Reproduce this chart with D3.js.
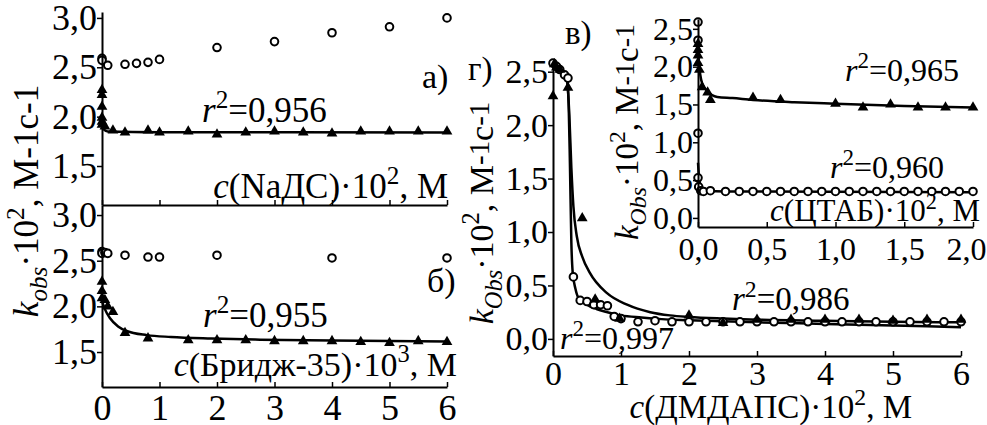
<!DOCTYPE html>
<html>
<head>
<meta charset="utf-8">
<script src="https://cdn.jsdelivr.net/npm/d3@7"></script>
<style>
body { margin: 0; background: #fff; }
svg { font-family: "Liberation Serif", "Times New Roman", serif; }
</style>
</head>
<body>
<svg id="chart" width="987" height="425"></svg>
<script>
// ---- data ----
// a) NaДС
var aCirX = [0, 0, 0.1, 0.4, 0.6, 0.8, 1.0, 2, 3, 4, 5, 6];
var aCirY = [2.59, 2.57, 2.52, 2.53, 2.54, 2.55, 2.58, 2.70, 2.76, 2.85, 2.91, 3.00];
var aTriX = [0, 0, 0, 0, 0, 0, 0.05, 0.19, 0.4, 0.8, 1.0, 1.5, 2, 2.5, 3, 3.5, 4, 4.5, 5, 5.5, 6];
var aTriY = [2.27, 2.22, 2.10, 1.99, 1.95, 1.92, 1.90, 1.86, 1.84, 1.86, 1.84, 1.85, 1.82, 1.84, 1.85, 1.84, 1.83, 1.85, 1.85, 1.85, 1.85];
var aFitX = [0, 0.01, 0.03, 0.1, 1, 6];
var aFitY = [2.00, 1.93, 1.87, 1.85, 1.843, 1.84];

// б) Бридж-35
var bCirX = [0, 0, 0.05, 0.1, 0.4, 0.8, 1.0, 2, 4, 6];
var bCirY = [2.60, 2.58, 2.59, 2.58, 2.56, 2.54, 2.54, 2.56, 2.53, 2.53];
var bTriX = [0, 0, 0, 0.05, 0.1, 0.19, 0.4, 0.8, 1.5, 2, 2.5, 3, 3.5, 4, 4.5, 5, 5.5, 6];
var bTriY = [2.27, 2.17, 2.09, 2.07, 2.00, 1.94, 1.71, 1.65, 1.63, 1.63, 1.63, 1.62, 1.62, 1.62, 1.61, 1.60, 1.62, 1.61];
var bFitX = [0, 0.05, 0.14, 0.28, 0.43, 0.78, 1.2, 1.9, 2.75, 4, 6];
var bFitY = [2.06, 1.97, 1.87, 1.78, 1.73, 1.685, 1.665, 1.648, 1.635, 1.625, 1.615];

// г) ДМДАПС
var gCirX = [0, 0.05, 0.1, 0.17, 0.22, 0.3, 0.4, 0.5, 0.6, 0.7, 0.8, 0.9, 1.0, 1.25, 1.5, 1.75, 2, 2.25, 2.5, 2.75, 3, 3.25, 3.5, 3.75, 4, 4.25, 4.5, 4.75, 5, 5.25, 5.5, 5.75, 6];
var gCirY = [2.58, 2.55, 2.52, 2.47, 2.44, 0.58, 0.36, 0.35, 0.32, 0.32, 0.31, 0.21, 0.19, 0.16, 0.17, 0.16, 0.16, 0.16, 0.16, 0.16, 0.16, 0.16, 0.16, 0.16, 0.16, 0.16, 0.16, 0.16, 0.16, 0.16, 0.16, 0.16, 0.16];
var gTriX = [0, 0.02, 0.05, 0.1, 0.22, 0.43, 0.62, 0.98, 2, 2.5, 3, 3.5, 4, 4.5, 5, 5.5, 6];
var gTriY = [2.27, 2.57, 2.54, 2.52, 2.35, 1.13, 0.37, 0.19, 0.22, 0.15, 0.18, 0.18, 0.18, 0.18, 0.17, 0.18, 0.18];
var gTriFitX = [0, 0.1, 0.2, 0.24, 0.27, 0.30, 0.35, 0.43, 0.54, 0.79, 1.09, 1.43, 1.72, 2, 2.5, 3, 4, 5, 6];
var gTriFitY = [2.57, 2.52, 2.44, 2.10, 1.60, 1.24, 0.96, 0.77, 0.62, 0.43, 0.32, 0.25, 0.22, 0.205, 0.19, 0.18, 0.17, 0.16, 0.155];
var gCirFitX = [0, 0.1, 0.2, 0.23, 0.25, 0.27, 0.29, 0.33, 0.37, 0.5, 0.64, 0.8, 1.0, 1.3, 1.6, 2, 3, 4, 5, 6];
var gCirFitY = [2.58, 2.53, 2.46, 2.20, 1.60, 0.90, 0.62, 0.47, 0.39, 0.32, 0.28, 0.25, 0.22, 0.20, 0.185, 0.175, 0.155, 0.14, 0.125, 0.11];

// в) ЦТАБ (inset)
var vTriX = [0, 0, 0, 0, 0.01, 0.03, 0.07, 0.09, 0.4, 0.6, 1.0, 1.2, 1.4, 1.6, 1.8, 2.0];
var vTriY = [2.30, 2.22, 2.15, 2.05, 1.96, 1.73, 1.66, 1.56, 1.59, 1.56, 1.51, 1.46, 1.50, 1.46, 1.46, 1.46];
var vCirX = [0, 0, 0, 0, 0.005, 0.02, 0.04, 0.09, 0.2, 0.3, 0.4, 0.5, 0.6, 0.7, 0.8, 0.9, 1.0, 1.1, 1.2, 1.3, 1.4, 1.5, 1.6, 1.7, 1.8, 1.9, 2.0];
var vCirY = [2.59, 2.35, 1.12, 0.53, 0.41, 0.36, 0.35, 0.36, 0.35, 0.35, 0.35, 0.35, 0.35, 0.35, 0.35, 0.35, 0.35, 0.35, 0.35, 0.35, 0.35, 0.35, 0.35, 0.35, 0.35, 0.35, 0.35];
var vTriFitX = [0, 0.005, 0.03, 0.07, 0.14, 0.25, 0.4, 0.7, 1, 1.5, 2];
var vTriFitY = [2.25, 2.09, 1.78, 1.67, 1.60, 1.585, 1.56, 1.53, 1.51, 1.48, 1.46];
var vCirFitX = [0, 0.01, 0.03, 0.06, 0.2, 2];
var vCirFitY = [0.73, 0.50, 0.39, 0.36, 0.35, 0.34];

// tick values
var leftTicksY = [1.5, 2.0, 2.5, 3.0];
var leftTicksX = [0, 1, 2, 3, 4, 5, 6];
var gTicksY = [0, 0.5, 1.0, 1.5, 2.0, 2.5];
var gTicksX = [0, 1, 2, 3, 4, 5, 6];
var vTicksY = [0, 0.5, 1.0, 1.5, 2.0, 2.5];
var vTicksX = [0, 0.5, 1.0, 1.5, 2.0];

// ---- drawing ----
var svg = d3.select("#chart");
var comma = function(v) { return d3.format(".1f")(v).replace(".", ","); };

// scales
var xL = d3.scaleLinear().domain([0, 6]).range([102, 447]);
var yA = d3.scaleLinear().domain([1.105, 3.06]).range([205, 12]);
var yB = d3.scaleLinear().domain([1.117, 3.11]).range([387, 205]);
var xG = d3.scaleLinear().domain([0, 6]).range([553, 961]);
var yG = d3.scaleLinear().domain([-0.16, 2.6]).range([356, 61]);
var xV = d3.scaleLinear().domain([0, 2]).range([698, 973]);
var yV = d3.scaleLinear().domain([-0.12, 2.63]).range([227, 19]);

function styleAxis(g, size) {
  g.attr("font-family", null).attr("font-size", size);
  g.select(".domain").attr("stroke-width", 2);
  g.selectAll(".tick line").attr("stroke-width", 1.5);
  g.selectAll("text").attr("fill", "#000");
  return g;
}

function yAxis(y, xPos, ticks, size) {
  var g = svg.append("g").attr("transform", "translate(" + xPos + ",0)")
    .call(d3.axisLeft(y).tickValues(ticks).tickFormat(comma).tickSize(5).tickSizeOuter(0).tickPadding(0));
  return styleAxis(g, size);
}

function xAxis(x, yPos, ticks, fmt, size, pad) {
  var g = svg.append("g").attr("transform", "translate(0," + yPos + ")")
    .call(d3.axisBottom(x).tickValues(ticks).tickFormat(fmt).tickSize(-5).tickSizeOuter(0).tickPadding(pad));
  return styleAxis(g, size);
}

function fit(x, y, xs, ys) {
  var pts = xs.map(function(v, i) { return [v, ys[i]]; });
  svg.append("path").datum(pts)
    .attr("fill", "none").attr("stroke", "#000").attr("stroke-width", 2.5)
    .attr("d", d3.line().x(function(d) { return x(d[0]); }).y(function(d) { return y(d[1]); })
      .curve(d3.curveMonotoneX));
}

function circles(x, y, xs, ys) {
  svg.append("g").selectAll("circle").data(xs).join("circle")
    .attr("cx", function(d) { return x(d); })
    .attr("cy", function(d, i) { return y(ys[i]); })
    .attr("r", 3.8).attr("fill", "#fff").attr("stroke", "#000").attr("stroke-width", 2);
}

function triangles(x, y, xs, ys) {
  var sym = d3.symbol().type(d3.symbolTriangle).size(50);
  svg.append("g").selectAll("path").data(xs).join("path")
    .attr("transform", function(d, i) { return "translate(" + x(d) + "," + y(ys[i]) + ")"; })
    .attr("d", sym).attr("fill", "#000");
}

// rich text: parts = [[text, flags]], flags: i italic, s superscript, b subscript, u small raise
function rich(x, y, size, anchor, parts, rot) {
  var t = svg.append("text")
    .attr("transform", "translate(" + x + "," + y + ")" + (rot ? " rotate(-90)" : ""))
    .attr("font-size", size).attr("text-anchor", anchor).attr("fill", "#000");
  var shift = 0;
  parts.forEach(function(p) {
    var f = p[1] || "";
    var target = 0, fs = size;
    if (f.indexOf("s") >= 0) { target = -0.4 * size; fs = size * 0.72; }
    if (f.indexOf("b") >= 0) { target = 0.25 * size; fs = size * 0.72; }
    if (f.indexOf("u") >= 0) { target = -0.12 * size; fs = size * 0.85; }
    var s = t.append("tspan").text(p[0]).attr("dy", target - shift).attr("font-size", fs);
    if (f.indexOf("i") >= 0) s.attr("font-style", "italic");
    shift = target;
  });
}

// panel a)
fit(xL, yA, aFitX, aFitY);
circles(xL, yA, aCirX, aCirY);
triangles(xL, yA, aTriX, aTriY);
yAxis(yA, 102, leftTicksY, 36);
xAxis(xL, 205, leftTicksX, function() { return ""; }, 36, 0);

// panel б)
fit(xL, yB, bFitX, bFitY);
circles(xL, yB, bCirX, bCirY);
triangles(xL, yB, bTriX, bTriY);
yAxis(yB, 102, leftTicksY, 36);
xAxis(xL, 387, leftTicksX, d3.format("d"), 36, 7);

// panel г)
fit(xG, yG, gTriFitX, gTriFitY);
fit(xG, yG, gCirFitX, gCirFitY);
circles(xG, yG, gCirX, gCirY);
triangles(xG, yG, gTriX, gTriY);
yAxis(yG, 553, gTicksY, 34);
xAxis(xG, 356, gTicksX, d3.format("d"), 34, 5);

// inset в)
fit(xV, yV, vTriFitX, vTriFitY);
fit(xV, yV, vCirFitX, vCirFitY);
circles(xV, yV, vCirX, vCirY);
triangles(xV, yV, vTriX, vTriY);
yAxis(yV, 698, vTicksY, 32);
var vx = xAxis(xV, 227, vTicksX, comma, 32, 10);
// last label sits a little inside the right edge, as in the original
vx.selectAll(".tick text").filter(function(d) { return d === 2; }).attr("dx", -7);

// labels
rich(422, 88, 34, "start", [["а)"]]);
rich(427, 292, 34, "start", [["б)"]]);
rich(468, 80, 33, "start", [["г)"]]);
rich(565, 44, 33, "start", [["в)"]]);

rich(202, 122, 35, "start", [["r", "i"], ["2", "s"], ["=0,956"]]);
rich(448, 198, 35, "end", [["c", "i"], ["(NaДС)·10"], ["2", "s"], [", М"]]);
rich(203, 327, 35, "start", [["r", "i"], ["2", "s"], ["=0,955"]]);
rich(457, 376, 34, "end", [["c", "i"], ["(Бридж-35)·10"], ["3", "s"], [", М"]]);

rich(560, 349, 32, "start", [["r", "i"], ["2", "s"], ["=0,997"]]);
rich(732, 310, 33, "start", [["r", "i"], ["2", "s"], ["=0,986"]]);
rich(845, 81, 32, "start", [["r", "i"], ["2", "s"], ["=0,965"]]);
rich(830, 178, 32, "start", [["r", "i"], ["2", "s"], ["=0,960"]]);
rich(980, 221, 31, "end", [["c", "i"], ["(ЦТАБ)·10"], ["2", "s"], [", М"]]);
rich(912, 418, 33, "end", [["c", "i"], ["(ДМДАПС)·10"], ["2", "s"], [", М"]]);

// axis titles (rotated)
rich(38, 201, 35, "middle", [["k", "i"], ["obs", "ib"], ["·10"], ["2", "s"], [", М-1с-1"]], true);
rich(493, 213, 34, "middle", [["k", "i"], ["Obs", "ib"], ["·10"], ["2", "s"], [", М"], ["-1", "u"], ["с"], ["-1", "u"]], true);
rich(638, 132, 33, "middle", [["k", "i"], ["Obs", "ib"], ["·10"], ["2", "s"], [", М"], ["-1", "u"], ["с"], ["-1", "u"]], true);
</script>
</body>
</html>
